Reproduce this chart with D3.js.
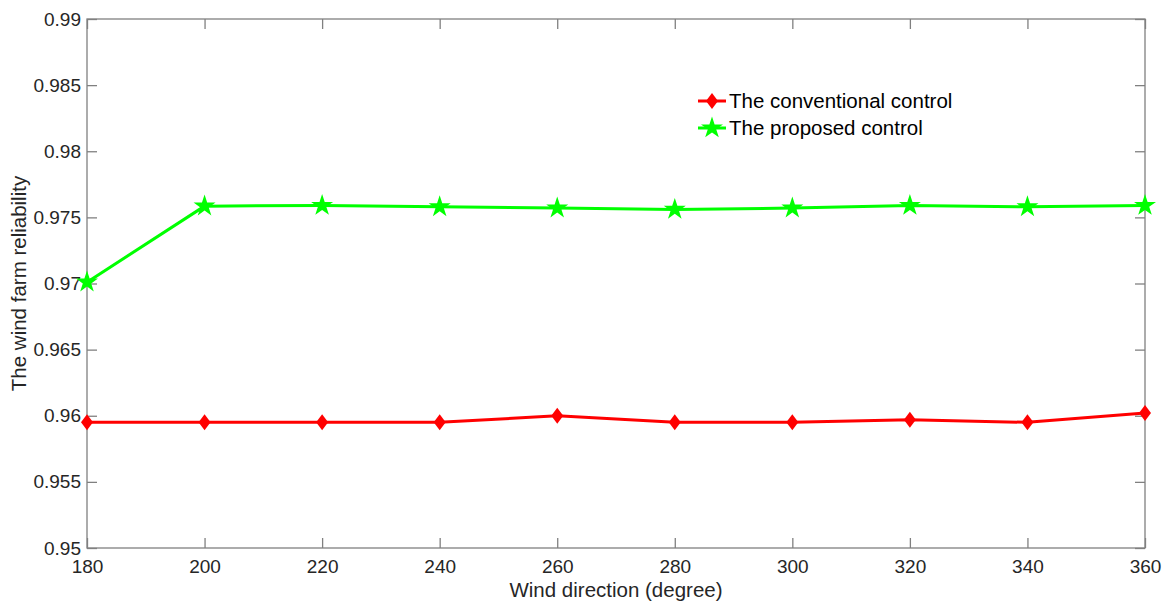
<!DOCTYPE html>
<html>
<head>
<meta charset="utf-8">
<script src="https://cdn.jsdelivr.net/npm/d3@7"></script>
<style>
  html, body { margin: 0; padding: 0; background: #fff; }
  svg { display: block; font-family: "Liberation Sans", Arial, sans-serif; }
</style>
</head>
<body>
<svg id="chart" width="1164" height="604"></svg>
<script>
// Wind direction (degree) on the x axis
const directions = [180, 200, 220, 240, 260, 280, 300, 320, 340, 360];
// Wind farm reliability for each control strategy
const conventional = [0.9595, 0.9595, 0.9595, 0.9595, 0.9600, 0.9595, 0.9595, 0.9597, 0.9595, 0.9602];
const proposed = [0.9701, 0.97585, 0.9759, 0.9758, 0.9757, 0.9756, 0.9757, 0.9759, 0.9758, 0.9759];
const seriesNames = ["The conventional control", "The proposed control"];
const xTicks = [180, 200, 220, 240, 260, 280, 300, 320, 340, 360];
const yTicks = [0.95, 0.955, 0.96, 0.965, 0.97, 0.975, 0.98, 0.985, 0.99];

const svg = d3.select("#chart");
const m = { left: 87, right: 1145, top: 19, bottom: 548 };
const x = d3.scaleLinear().domain([180, 360]).range([m.left, m.right]);
const y = d3.scaleLinear().domain([0.95, 0.99]).range([m.bottom, m.top]);

const axisColor = "#808080";
const textColor = "#262626";
const tickLen = 10;
const fmt = d => String(+d.toFixed(3));

function styleAxis(g) {
  g.select(".domain").remove();
  g.selectAll(".tick line").attr("stroke", axisColor).attr("stroke-width", 1.3);
  g.selectAll(".tick text").attr("fill", textColor).style("font-size", "19px");
}

// bottom axis with inward ticks
svg.append("g").attr("transform", `translate(0,${m.bottom})`)
  .call(d3.axisBottom(x).tickValues(xTicks).tickSize(-tickLen).tickPadding(12).tickFormat(d => d))
  .call(styleAxis);
// top axis ticks only
svg.append("g").attr("transform", `translate(0,${m.top})`)
  .call(d3.axisTop(x).tickValues(xTicks).tickSize(-tickLen).tickFormat(""))
  .call(styleAxis);
// left axis
svg.append("g").attr("transform", `translate(${m.left},0)`)
  .call(d3.axisLeft(y).tickValues(yTicks).tickSize(-tickLen).tickPadding(6).tickFormat(fmt))
  .call(styleAxis);
// right axis ticks only
svg.append("g").attr("transform", `translate(${m.right},0)`)
  .call(d3.axisRight(y).tickValues(yTicks).tickSize(-tickLen).tickFormat(""))
  .call(styleAxis);

// box
svg.append("rect")
  .attr("x", m.left).attr("y", m.top)
  .attr("width", m.right - m.left).attr("height", m.bottom - m.top)
  .attr("fill", "none").attr("stroke", axisColor).attr("stroke-width", 1.3);

// axis titles
svg.append("text")
  .attr("x", (m.left + m.right) / 2).attr("y", 597)
  .attr("text-anchor", "middle").attr("fill", textColor)
  .style("font-size", "20.5px").text("Wind direction (degree)");
svg.append("text")
  .attr("transform", `translate(26,${(m.top + m.bottom) / 2}) rotate(-90)`)
  .attr("text-anchor", "middle").attr("fill", textColor)
  .style("font-size", "20.5px").text("The wind farm reliability");

// MATLAB-style diamond: a bit wider than d3's slim diamond
const wideDiamond = {
  draw(ctx, size) {
    const h = Math.sqrt(size / 1.5);
    const w = h * 0.75;
    ctx.moveTo(0, -h);
    ctx.lineTo(w, 0);
    ctx.lineTo(0, h);
    ctx.lineTo(-w, 0);
    ctx.closePath();
  }
};
const diamond = d3.symbol().type(wideDiamond).size(96);
const star = d3.symbol().type(d3.symbolStar).size(150);

const series = [
  { name: seriesNames[0], values: conventional, color: "#ff0000", symbol: diamond },
  { name: seriesNames[1], values: proposed, color: "#00ff00", symbol: star }
];

const line = d3.line().x((d, i) => x(directions[i])).y(d => y(d));

series.forEach(s => {
  svg.append("path")
    .datum(s.values)
    .attr("d", line)
    .attr("fill", "none")
    .attr("stroke", s.color)
    .attr("stroke-width", 3)
    .attr("stroke-linejoin", "round");
  svg.append("g").selectAll("path")
    .data(s.values)
    .join("path")
    .attr("transform", (d, i) => `translate(${x(directions[i])},${y(d)})`)
    .attr("d", s.symbol)
    .attr("fill", s.color);
});

// legend
const legend = svg.append("g");
series.forEach((s, i) => {
  const ly = 101 + i * 27;
  legend.append("line")
    .attr("x1", 698).attr("x2", 726).attr("y1", ly).attr("y2", ly)
    .attr("stroke", s.color).attr("stroke-width", 3);
  legend.append("path")
    .attr("transform", `translate(712,${ly})`)
    .attr("d", s.symbol)
    .attr("fill", s.color);
  legend.append("text")
    .attr("x", 729).attr("y", ly + 7)
    .attr("fill", "#000")
    .style("font-size", "20.5px")
    .text(s.name);
});
</script>
</body>
</html>
